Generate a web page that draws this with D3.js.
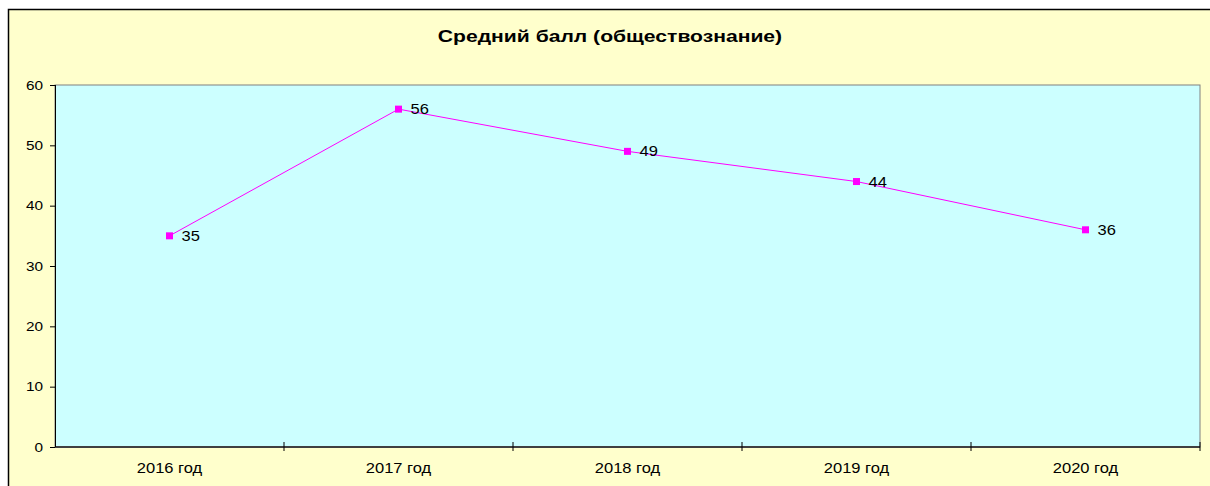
<!DOCTYPE html>
<html>
<head>
<meta charset="utf-8">
<script src="https://cdn.jsdelivr.net/npm/d3@7"></script>
<style>
  body { margin: 0; background: #fff; }
  text { font-family: Arial, "Liberation Sans", sans-serif; fill: #000; }
</style>
</head>
<body>
<div id="chart"></div>
<script>
"use strict";
// data
const categories = ["2016 год", "2017 год", "2018 год", "2019 год", "2020 год"];
const values = [35, 56, 49, 44, 36];
const yTicks = [0, 10, 20, 30, 40, 50, 60];
const chartTitle = "Средний балл (обществознание)";

const width = 1210, height = 486;
const plot = { left: 55, top: 85, right: 1200, bottom: 447 };
const stretchK = 1.18;

const svg = d3.select("#chart")
    .append("svg")
    .attr("width", width)
    .attr("height", height);

// outer chart area
svg.append("rect")
    .attr("x", 8.5)
    .attr("y", 9.5)
    .attr("width", 1300)
    .attr("height", 600)
    .attr("fill", "#FFFFCC")
    .attr("stroke", "#000")
    .attr("stroke-width", 1.5);

// plot area
svg.append("rect")
    .attr("x", plot.left)
    .attr("y", plot.top)
    .attr("width", plot.right - plot.left)
    .attr("height", plot.bottom - plot.top)
    .attr("fill", "#CCFFFF")
    .attr("stroke", "#808080")
    .attr("stroke-width", 1);

var xScale = d3.scaleBand()
    .domain(categories)
    .range([plot.left, plot.right])
    .paddingInner(0)
    .paddingOuter(0);

var yScale = d3.scaleLinear()
    .domain([0, 60])
    .range([plot.bottom, plot.top]);

// excel text looks a bit wide, so stretch horizontally
function stretch(sel, k) {
    k = k || stretchK;
    sel.each(function () {
        const t = d3.select(this);
        const x = +t.attr("x") || 0;
        t.attr("x", x / k)
            .attr("transform", `scale(${k},1)`);
    });
}

// y axis
const yAxis = svg.append("g")
    .attr("transform", `translate(${plot.left},0)`)
    .call(d3.axisLeft(yScale).tickValues(yTicks).tickSize(5).tickPadding(7));
yAxis.select(".domain").attr("stroke", "#000");
yAxis.selectAll("text")
    .style("font-size", "13px")
    .style("font-family", "Arial, 'Liberation Sans', sans-serif")
    .attr("fill", "#000")
    .call(stretch);

// x axis (ticks on category boundaries)
const xAxis = svg.append("g")
    .attr("transform", `translate(0,${plot.bottom})`);
xAxis.append("line")
    .attr("x1", plot.left)
    .attr("x2", plot.right)
    .attr("stroke", "#404040")
    .attr("stroke-width", 2);
const boundaries = categories.map(c => xScale(c)).concat([xScale.range()[1]]);
xAxis.selectAll(".xtick")
    .data(boundaries.slice(1))
    .enter()
    .append("line")
    .attr("class", "xtick")
    .attr("x1", d => d)
    .attr("x2", d => d)
    .attr("y1", -5)
    .attr("y2", 4)
    .attr("stroke", "#000");
xAxis.selectAll(".xlabel")
    .data(categories)
    .enter()
    .append("text")
    .attr("class", "xlabel")
    .attr("x", d => xScale(d) + xScale.bandwidth() / 2)
    .attr("y", 26)
    .attr("text-anchor", "middle")
    .style("font-size", "14px")
    .text(d => d)
    .call(stretch);

// left axis line on top
svg.append("line")
    .attr("x1", plot.left + 0.5)
    .attr("x2", plot.left + 0.5)
    .attr("y1", plot.top)
    .attr("y2", plot.bottom)
    .attr("stroke", "#000");

// title
svg.append("text")
    .attr("x", 610)
    .attr("y", 42)
    .attr("text-anchor", "middle")
    .style("font-size", "16px")
    .style("font-weight", "bold")
    .text(chartTitle)
    .call(stretch, 1.32);

// series
const points = categories.map((c, i) => ({ name: c, value: values[i] }));
const cx = d => xScale(d.name) + xScale.bandwidth() / 2;

svg.append("path")
    .datum(points)
    .attr("fill", "none")
    .attr("stroke", "#FF00FF")
    .attr("stroke-width", 1)
    .attr("d", d3.line().x(cx).y(d => yScale(d.value)));

svg.selectAll(".marker")
    .data(points)
    .enter()
    .append("rect")
    .attr("class", "marker")
    .attr("x", d => cx(d) - 3.5)
    .attr("y", d => yScale(d.value) - 3.5)
    .attr("width", 7)
    .attr("height", 7)
    .attr("fill", "#FF00FF");

svg.selectAll(".value")
    .data(points)
    .enter()
    .append("text")
    .attr("class", "value")
    .attr("x", d => cx(d) + 12)
    .attr("y", d => yScale(d.value))
    .attr("dy", "0.36em")
    .style("font-size", "14px")
    .text(d => d.value)
    .call(stretch);
</script>
</body>
</html>
